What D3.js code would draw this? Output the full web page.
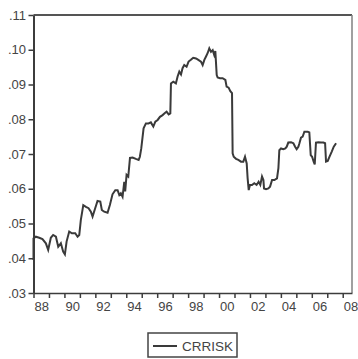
<!DOCTYPE html>
<html>
<head>
<meta charset="utf-8">
<script src="https://cdn.jsdelivr.net/npm/d3@7"></script>
<style>
  html, body { margin: 0; padding: 0; background: #fff; }
  svg { display: block; font-family: "Liberation Sans", Arial, sans-serif; }
</style>
</head>
<body>
<svg id="chart" width="358" height="359"></svg>
<script>
// CRRISK series, decimal year vs. value
const years = [
  1988.00, 1988.00, 1988.15, 1988.37, 1988.58, 1988.80, 1988.95, 1989.12, 1989.27, 1989.45,
  1989.60, 1989.77, 1989.92, 1990.03, 1990.14, 1990.31, 1990.48, 1990.70, 1990.85, 1990.96,
  1991.06, 1991.22, 1991.39, 1991.56, 1991.71, 1991.82, 1991.99, 1992.14, 1992.32, 1992.42,
  1992.57, 1992.79, 1992.94, 1993.11, 1993.29, 1993.44, 1993.55, 1993.65, 1993.76, 1993.87,
  1993.93, 1994.02, 1994.13, 1994.24, 1994.41, 1994.62, 1994.80, 1994.88, 1994.97, 1995.12,
  1995.27, 1995.44, 1995.59, 1995.75, 1995.88, 1996.03, 1996.18, 1996.35, 1996.48, 1996.61,
  1996.74, 1996.85, 1996.89, 1997.04, 1997.21, 1997.32, 1997.43, 1997.54, 1997.64, 1997.75,
  1997.90, 1998.03, 1998.18, 1998.33, 1998.51, 1998.66, 1998.83, 1998.94, 1999.05, 1999.15,
  1999.26, 1999.37, 1999.48, 1999.59, 1999.69, 1999.76, 1999.85, 1999.91, 2000.06, 2000.23,
  2000.41, 2000.49, 2000.62, 2000.73, 2000.84, 2000.88, 2000.95, 2001.10, 2001.25, 2001.42,
  2001.57, 2001.68, 2001.79, 2001.85, 2001.92, 2002.00, 2002.13, 2002.28, 2002.43, 2002.56,
  2002.67, 2002.78, 2002.87, 2002.91, 2003.04, 2003.19, 2003.30, 2003.43, 2003.58, 2003.75,
  2003.84, 2003.90, 2004.01, 2004.16, 2004.29, 2004.38, 2004.48, 2004.66, 2004.81, 2004.92,
  2005.02, 2005.13, 2005.20, 2005.30, 2005.41, 2005.52, 2005.74, 2005.84, 2005.93, 2006.02,
  2006.12, 2006.19, 2006.27, 2006.43, 2006.60, 2006.75, 2006.86, 2006.92, 2007.03, 2007.14,
  2007.29, 2007.42, 2007.57
];
const crrisk = [
  0.0395, 0.0457, 0.0462, 0.0459, 0.0455, 0.0443, 0.0424, 0.0459, 0.0467, 0.0462,
  0.0433, 0.0443, 0.0419, 0.0411, 0.0448, 0.0477, 0.0472, 0.0472, 0.0462, 0.0467,
  0.0510, 0.0553, 0.0548, 0.0544, 0.0534, 0.0520, 0.0544, 0.0565, 0.0563, 0.0539,
  0.0534, 0.0531, 0.0553, 0.0584, 0.0596, 0.0596, 0.0582, 0.0587, 0.0577, 0.0620,
  0.0592, 0.0640, 0.0635, 0.0689, 0.0690, 0.0686, 0.0683, 0.0692, 0.0716, 0.0774,
  0.0788, 0.0788, 0.0791, 0.0779, 0.0793, 0.0798, 0.0807, 0.0812, 0.0817, 0.0822,
  0.0814, 0.0817, 0.0903, 0.0908, 0.0903, 0.0923, 0.0937, 0.0929, 0.0947, 0.0956,
  0.0951, 0.0966, 0.0971, 0.0977, 0.0975, 0.0971, 0.0966, 0.0956, 0.0971, 0.0980,
  0.0990, 0.1004, 0.0994, 0.0999, 0.0985, 0.0996, 0.0927, 0.0920, 0.0918, 0.0918,
  0.0913, 0.0894, 0.0891, 0.0881, 0.0875, 0.0702, 0.0692, 0.0686, 0.0683, 0.0678,
  0.0678, 0.0692, 0.0673, 0.0630, 0.0596, 0.0611, 0.0611, 0.0616, 0.0611, 0.0620,
  0.0611, 0.0635, 0.0625, 0.0601, 0.0599, 0.0601, 0.0606, 0.0625, 0.0625, 0.0630,
  0.0659, 0.0711, 0.0716, 0.0714, 0.0716, 0.0721, 0.0733, 0.0734, 0.0731, 0.0721,
  0.0714, 0.0721, 0.0731, 0.0747, 0.0750, 0.0764, 0.0764, 0.0762, 0.0697, 0.0692,
  0.0678, 0.0670, 0.0733, 0.0734, 0.0733, 0.0733, 0.0731, 0.0678, 0.0680, 0.0692,
  0.0707, 0.0721, 0.0731
];
const yTicks = [0.03, 0.04, 0.05, 0.06, 0.07, 0.08, 0.09, 0.10, 0.11];
const xLabelYears = [1988, 1990, 1992, 1994, 1996, 1998, 2000, 2002, 2004, 2006, 2008];
const seriesName = "CRRISK";

const svg = d3.select("#chart");
const plotLeft = 33.5, plotRight = 352, plotTop = 15, plotBottom = 293;

const x = d3.scaleLinear().domain([1988, 2008.6]).range([plotLeft, plotRight]);
const y = d3.scaleLinear().domain([0.03, 0.11]).range([plotBottom, plotTop]);

const ink = "#3c3c3c";

// frame: top and right borders
svg.append("line").attr("x1", plotLeft).attr("x2", plotRight).attr("y1", plotTop).attr("y2", plotTop)
  .attr("stroke", "#555").attr("stroke-width", 2);
svg.append("line").attr("x1", plotRight).attr("x2", plotRight).attr("y1", plotTop).attr("y2", plotBottom)
  .attr("stroke", "#808080").attr("stroke-width", 1.5);

// y axis
const yAxis = svg.append("g").attr("transform", `translate(${plotLeft},0)`)
  .call(d3.axisLeft(y).tickValues(yTicks).tickSize(5).tickSizeOuter(0)
    .tickFormat(d => d3.format(".2f")(d).replace(/^0/, "")));
yAxis.select(".domain").attr("stroke", ink).attr("stroke-width", 2);
yAxis.selectAll(".tick line").attr("stroke", ink).attr("stroke-width", 1.5);
yAxis.selectAll(".tick text").attr("x", -7.5).attr("fill", "#444")
  .style("font-size", "13px").style("font-family", "'Liberation Sans', Arial, sans-serif");

// x axis: yearly ticks
const yearTicks = d3.range(1988, 2009);
const xAxis = svg.append("g").attr("transform", `translate(0,${plotBottom})`)
  .call(d3.axisBottom(x).tickValues(yearTicks).tickSize(5).tickSizeOuter(0).tickFormat(""));
xAxis.select(".domain").attr("stroke", ink).attr("stroke-width", 1.5);
xAxis.selectAll(".tick line").attr("stroke", ink).attr("stroke-width", 1.5);

// x labels centred in each even year
const xLab = svg.append("g").attr("transform", `translate(0,${plotBottom})`)
  .call(d3.axisBottom(x).tickValues(xLabelYears.map(v => v + 0.5)).tickSize(0)
    .tickFormat(d => String(Math.floor(d) % 100).padStart(2, "0")));
xLab.select(".domain").remove();
xLab.selectAll(".tick text").attr("y", 9).attr("dy", "0.71em").attr("fill", "#444")
  .style("font-size", "13px").style("font-family", "'Liberation Sans', Arial, sans-serif");

// series line
const line = d3.line().x((d, i) => x(years[i])).y(d => y(d));
svg.append("path").datum(crrisk).attr("d", line)
  .attr("fill", "none").attr("stroke", "#3a3a3a").attr("stroke-width", 2)
  .attr("stroke-linejoin", "miter");

// legend
const lg = svg.append("g").attr("transform", "translate(148,333)");
lg.append("rect").attr("width", 89).attr("height", 24)
  .attr("fill", "none").attr("stroke", "#444").attr("stroke-width", 1.5);
lg.append("line").attr("x1", 5).attr("x2", 29).attr("y1", 13).attr("y2", 13)
  .attr("stroke", "#3a3a3a").attr("stroke-width", 2);
lg.append("text").attr("x", 34).attr("y", 18).text(seriesName)
  .attr("fill", "#444").style("font-size", "13.5px");
</script>
</body>
</html>
